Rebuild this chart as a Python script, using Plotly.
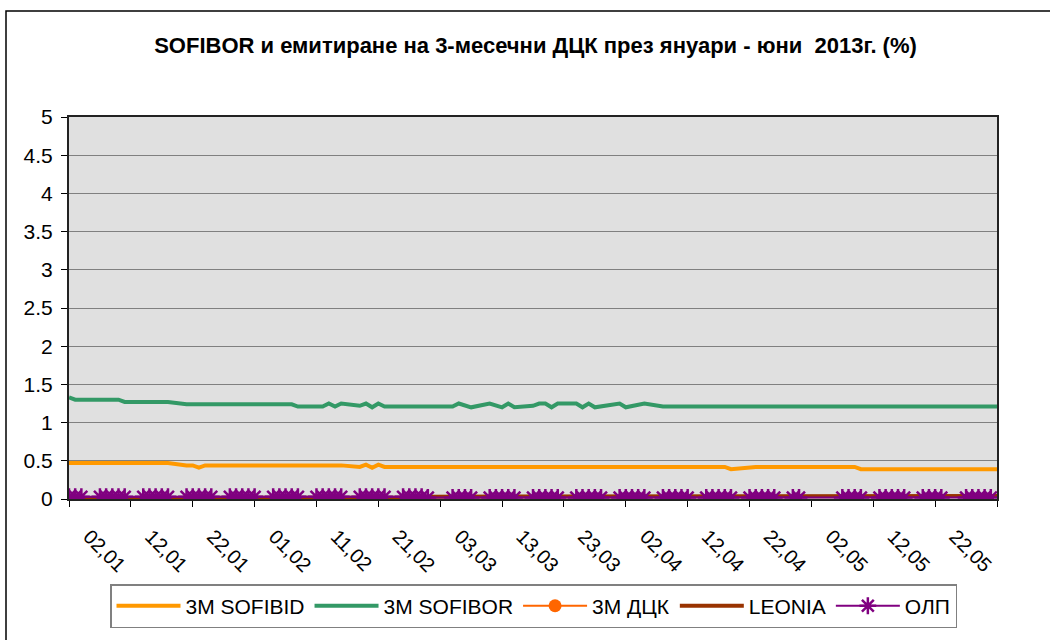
import plotly.graph_objects as go

# ---------------- data ----------------
year = 2013
jan_days = [2, 3, 4, 7, 8, 9, 10, 11, 14, 15, 16, 17, 18, 21, 22, 23, 24, 25, 28, 29, 30, 31]
feb_days = [1, 4, 5, 6, 7, 8, 11, 12, 13, 14, 15, 18, 19, 20, 21, 22, 25, 26, 27, 28]
mar_days = [1, 5, 6, 7, 8, 11, 12, 13, 14, 15, 18, 19, 20, 21, 22, 25, 26, 27, 28, 29]
apr_days = [1, 2, 3, 4, 5, 8, 9, 10, 11, 12, 15, 16, 17, 18, 19, 22, 23, 24, 25, 26, 29, 30]
may_days = [7, 8, 9, 10, 13, 14, 15, 16, 17, 20, 21, 22, 23, 27, 28, 29, 30, 31]
jun_days = [3]

sofibid = [
    # Jan
    0.47, 0.47, 0.47, 0.47, 0.47, 0.47, 0.47, 0.47, 0.47, 0.47, 0.47, 0.47, 0.47,
    0.44, 0.44, 0.41, 0.44, 0.44, 0.44, 0.44, 0.44, 0.44,
    # Feb
    0.44, 0.44, 0.44, 0.44, 0.44, 0.44, 0.44, 0.44, 0.44, 0.44, 0.44,
    0.42, 0.45, 0.41, 0.45, 0.42, 0.42, 0.42, 0.42, 0.42,
    # Mar
    0.42, 0.42, 0.42, 0.42, 0.42, 0.42, 0.42, 0.42, 0.42, 0.42,
    0.42, 0.42, 0.42, 0.42, 0.42, 0.42, 0.42, 0.42, 0.42, 0.42,
    # Apr
    0.42, 0.42, 0.42, 0.42, 0.42, 0.42, 0.42, 0.42, 0.42, 0.42, 0.42,
    0.42, 0.42, 0.42, 0.39, 0.42, 0.42, 0.42, 0.42, 0.42, 0.42, 0.42,
    # May
    0.42, 0.42, 0.42, 0.39, 0.39, 0.39, 0.39, 0.39, 0.39,
    0.39, 0.39, 0.39, 0.39, 0.39, 0.39, 0.39, 0.39, 0.39,
    # Jun
    0.39,
]

sofibor = [
    # Jan
    1.33, 1.30, 1.30, 1.30, 1.30, 1.30, 1.30, 1.27, 1.27, 1.27, 1.27, 1.27, 1.27,
    1.24, 1.24, 1.24, 1.24, 1.24, 1.24, 1.24, 1.24, 1.24,
    # Feb
    1.24, 1.24, 1.24, 1.24, 1.24, 1.21, 1.21, 1.21, 1.25, 1.21, 1.25,
    1.22, 1.25, 1.20, 1.25, 1.21, 1.21, 1.21, 1.21, 1.21,
    # Mar
    1.21, 1.21, 1.25, 1.23, 1.20, 1.25, 1.22, 1.20, 1.25, 1.20,
    1.22, 1.25, 1.25, 1.20, 1.25, 1.25, 1.20, 1.25, 1.20, 1.21,
    # Apr
    1.25, 1.20, 1.22, 1.23, 1.25, 1.21, 1.21, 1.21, 1.21, 1.21, 1.21,
    1.21, 1.21, 1.21, 1.21, 1.21, 1.21, 1.21, 1.21, 1.21, 1.21, 1.21,
    # May
    1.21, 1.21, 1.21, 1.21, 1.21, 1.21, 1.21, 1.21, 1.21,
    1.21, 1.21, 1.21, 1.21, 1.21, 1.21, 1.21, 1.21, 1.21,
    # Jun
    1.21,
]

# 3M ДЦК: no 3-month treasury auctions in the period (legend entry only)
dck_3m = [None]

leonia = [
    # Jan
    0.01, 0.01, 0.01, 0.01, 0.01, 0.01, 0.01, 0.01, 0.01, 0.01, 0.01,
    0.01, 0.01, 0.01, 0.01, 0.01, 0.01, 0.01, 0.01, 0.01, 0.01, 0.01,
    # Feb
    0.02, 0.02, 0.02, 0.02, 0.02, 0.02, 0.02, 0.02, 0.02, 0.02,
    0.02, 0.02, 0.02, 0.02, 0.02, 0.02, 0.02, 0.02, 0.02, 0.02,
    # Mar
    0.03, 0.03, 0.03, 0.03, 0.03, 0.03, 0.03, 0.03, 0.03, 0.03,
    0.03, 0.03, 0.03, 0.03, 0.03, 0.03, 0.03, 0.03, 0.03, 0.03,
    # Apr
    0.03, 0.03, 0.03, 0.03, 0.03, 0.03, 0.03, 0.03, 0.03, 0.03, 0.03,
    0.03, 0.03, 0.03, 0.03, 0.03, 0.03, 0.03, 0.03, 0.03, 0.03, 0.03,
    # May
    0.04, 0.04, 0.04, 0.04, 0.04, 0.04, 0.04, 0.04, 0.04,
    0.04, 0.04, 0.04, 0.04, 0.04, 0.04, 0.04, 0.04, 0.04,
    # Jun
    0.04,
]

olp = [
    # Jan
    0.03, 0.03, 0.03, 0.03, 0.03, 0.03, 0.03, 0.03, 0.03, 0.03, 0.03,
    0.03, 0.03, 0.03, 0.03, 0.03, 0.03, 0.03, 0.03, 0.03, 0.03, 0.03,
    # Feb
    0.03, 0.03, 0.03, 0.03, 0.03, 0.03, 0.03, 0.03, 0.03, 0.03,
    0.03, 0.03, 0.03, 0.03, 0.03, 0.03, 0.03, 0.03, 0.03, 0.03,
    # Mar
    0.02, 0.02, 0.02, 0.02, 0.02, 0.02, 0.02, 0.02, 0.02, 0.02,
    0.02, 0.02, 0.02, 0.02, 0.02, 0.02, 0.02, 0.02, 0.02, 0.02,
    # Apr
    0.02, 0.02, 0.02, 0.02, 0.02, 0.02, 0.02, 0.02, 0.02, 0.02, 0.02,
    0.02, 0.02, 0.02, 0.02, 0.02, 0.02, 0.02, 0.02, 0.02, 0.02, 0.02,
    # May
    0.02, 0.02, 0.02, 0.02, 0.02, 0.02, 0.02, 0.02, 0.02,
    0.02, 0.02, 0.02, 0.02, 0.02, 0.02, 0.02, 0.02, 0.02,
    # Jun
    None,
]

tick_dates = ["2013-01-02", "2013-01-12", "2013-01-22", "2013-02-01", "2013-02-11",
              "2013-02-21", "2013-03-03", "2013-03-13", "2013-03-23", "2013-04-02",
              "2013-04-12", "2013-04-22", "2013-05-02", "2013-05-12", "2013-05-22",
              "2013-06-01"]
tick_labels = ["02,01", "12,01", "22,01", "01,02", "11,02", "21,02", "03,03", "13,03",
               "23,03", "02,04", "12,04", "22,04", "02,05", "12,05", "22,05", ""]

title_text = "SOFIBOR и емитиране на 3-месечни ДЦК през януари - юни  2013г. (%)"

# ---------------- build ----------------
dates = []
for m, days in [(1, jan_days), (2, feb_days), (3, mar_days), (4, apr_days), (5, may_days), (6, jun_days)]:
    for d in days:
        dates.append(f"{year}-{m:02d}-{d:02d}")

FONT = "Liberation Sans, Arial, sans-serif"
W, H = 1050, 640
ML, MR, MT, MB = 69, 53, 117, 137
PW, PH = W - ML - MR, H - MT - MB


def px_x(px):
    return (px - ML) / PW


def px_y(py):
    return (H - MB - py) / PH


fig = go.Figure()
fig.add_trace(go.Scatter(x=dates, y=sofibid, name="3M SOFIBID", mode="lines",
                         line=dict(color="#FF9900", width=4)))
fig.add_trace(go.Scatter(x=dates, y=sofibor, name="3M SOFIBOR", mode="lines",
                         line=dict(color="#339966", width=4)))
fig.add_trace(go.Scatter(x=dates[:1], y=dck_3m, name="3M ДЦК", mode="lines+markers",
                         line=dict(color="#FF6600", width=2),
                         marker=dict(symbol="circle", size=13, color="#FF6600")))
fig.add_trace(go.Scatter(x=dates, y=leonia, name="LEONIA", mode="lines",
                         line=dict(color="#993300", width=4)))
fig.add_trace(go.Scatter(x=dates, y=olp, name="ОЛП", mode="lines+markers",
                         line=dict(color="#800080", width=2),
                         marker=dict(symbol="asterisk-open", size=14,
                                     line=dict(color="#800080", width=2.5))))

fig.update_layout(
    width=W, height=H,
    margin=dict(l=ML, r=MR, t=MT, b=MB),
    paper_bgcolor="white",
    plot_bgcolor="#E0E0E0",
    font=dict(family=FONT, color="black", size=20),
    title=dict(text=title_text, x=0.51, xanchor="center", y=1 - 45 / H, yanchor="middle",
               font=dict(family=FONT, size=22, color="black", weight="bold")),
    showlegend=True,
    legend=dict(orientation="h", x=px_x(110), y=px_y(589), xanchor="left", yanchor="top",
                bgcolor="white", bordercolor="#808080", borderwidth=1.5,
                font=dict(family=FONT, size=21, color="black"),
                itemwidth=64, tracegroupgap=0),
    xaxis=dict(type="date", range=["2013-01-02", "2013-06-01"],
               tickmode="array", tickvals=tick_dates, ticktext=tick_labels,
               tickangle=45, tickfont=dict(family=FONT, size=20, color="black"),
               ticklabelshift=20, ticklabelstandoff=10,
               ticks="outside", ticklen=6, tickcolor="black", tickwidth=1,
               showgrid=False, zeroline=False,
               showline=True, linecolor="#222222", linewidth=2, mirror=True),
    yaxis=dict(range=[0, 5], dtick=0.5, tick0=0,
               tickfont=dict(family=FONT, size=21, color="black"),
               ticklabelstandoff=4,
               ticks="outside", ticklen=6, tickcolor="black", tickwidth=1,
               showgrid=True, gridcolor="#808080", gridwidth=1, zeroline=False,
               showline=True, linecolor="#222222", linewidth=2, mirror=True),
    shapes=[dict(type="rect", xref="paper", yref="paper",
                 x0=px_x(6), x1=px_x(1070), y0=px_y(660), y1=px_y(10),
                 line=dict(color="black", width=1.5), fillcolor="rgba(0,0,0,0)",
                 layer="below")],
)

fig.write_html("out.html", config={"displayModeBar": False},
               post_script="document.body.style.margin='0';")
